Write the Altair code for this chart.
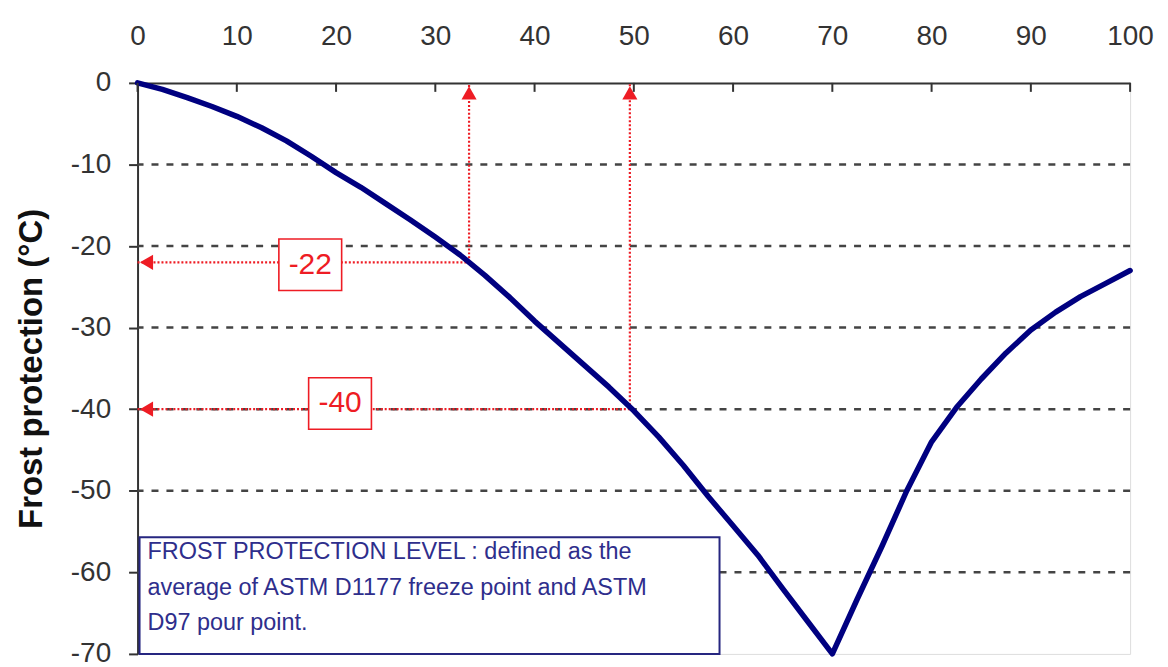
import altair as alt
import pandas as pd

# ---- data ----
conc = [0, 2.5, 5, 7.5, 10, 12.5, 15, 17.5, 20, 22.5, 25, 27.5, 30, 32.5, 35, 37.5,
        40, 42.5, 45, 47.5, 50, 52.5, 55, 57.5, 60, 62.5, 65, 67.5, 70, 72.5, 75,
        77.5, 80, 82.5, 85, 87.5, 90, 92.5, 95, 97.5, 100]
frost = [0, -0.8, -1.8, -2.9, -4.1, -5.5, -7.1, -9.0, -11.0, -12.8, -14.8, -16.8,
         -18.9, -21.1, -23.6, -26.3, -29.2, -31.9, -34.6, -37.3, -40.2, -43.4, -46.9,
         -50.7, -54.3, -57.9, -62.0, -66.0, -70.0, -63.3, -56.8, -50.0, -44.0, -39.8,
         -36.3, -33.1, -30.3, -28.1, -26.2, -24.6, -23.0]

x_ticks = [0, 10, 20, 30, 40, 50, 60, 70, 80, 90, 100]
y_ticks = [-70, -60, -50, -40, -30, -20, -10, 0]
grid_levels = [-10, -20, -30, -40, -50, -60]

ann_conc = [33.4, 49.6]
ann_temp = [-22, -40]
ann_text = ["-22", "-40"]
ann_label_x = [17.4, 20.4]
ann_label_y = [-22.3, -39.3]

note_lines = [
    "FROST PROTECTION LEVEL : defined as the",
    "average of ASTM D1177 freeze point and ASTM",
    "D97 pour point.",
]

FONT = "Liberation Sans"
RED = "#ee1c24"
NAVY = "#000080"

curve_df = pd.DataFrame({"conc": conc, "frost": frost})
grid_df = pd.DataFrame({"level": grid_levels})
tick_df = pd.DataFrame({"conc": x_ticks})
ann_df = pd.DataFrame({
    "conc": ann_conc, "frost": ann_temp, "start": [0] * len(ann_conc),
    "top": [0] * len(ann_conc), "lx": ann_label_x, "ly": ann_label_y,
    "label": ann_text,
})

xs = alt.Scale(domain=[0, 100], nice=False, zero=False)
ys = alt.Scale(domain=[-70, 0], nice=False, zero=False)

x_axis = alt.Axis(orient="top", values=x_ticks, labelFontSize=28, labelColor="#333333",
                  ticks=False, tickSize=0, labelPadding=33, domainColor="#333333",
                  domainWidth=2, grid=False, title=None, labelFlush=False,
                  labelOverlap=False, labelFont=FONT)
y_axis = alt.Axis(orient="left", values=y_ticks, labelFontSize=28, labelColor="#333333",
                  labelExpr="'' + datum.value",
                  tickSize=9, tickWidth=2, tickColor="#333333", labelPadding=18,
                  domainColor="#333333", domainWidth=2, grid=False,
                  title="Frost protection (°C)", titleFontSize=33, titleFontWeight="bold",
                  titleColor="#111111", titlePadding=22, labelFont=FONT, titleFont=FONT,
                  labelOverlap=False)


def X(f):
    return alt.X(f, type="quantitative", scale=xs, axis=x_axis)


def Y(f):
    return alt.Y(f, type="quantitative", scale=ys, axis=y_axis)


grid = alt.Chart(grid_df).mark_rule(color="#444444", strokeWidth=2.5, strokeDash=[7, 8]).encode(
    y=Y("level")
)

note_box = alt.Chart(alt.Data(values=[{}])).mark_rect(
    fill="white", stroke="#262680", strokeWidth=2
).encode(x=alt.value(2), x2=alt.value(584), y=alt.value(456), y2=alt.value(573))

note_text = alt.Chart(alt.Data(values=[{}])).mark_text(
    align="left", baseline="middle", fontSize=23.5, lineHeight=35.5, color="#2e2e8c", font=FONT
).encode(x=alt.value(10), y=alt.value(471), text=alt.value(note_lines))

h_lines = alt.Chart(ann_df).mark_rule(color=RED, strokeWidth=2.2, strokeDash=[2, 2]).encode(
    x=X("start"), x2="conc", y=Y("frost")
)
v_lines = alt.Chart(ann_df).mark_rule(color=RED, strokeWidth=2.2, strokeDash=[2, 2]).encode(
    x=X("conc"), y=Y("frost"), y2="top"
)

line = alt.Chart(curve_df).mark_line(color=NAVY, strokeWidth=5.5, strokeJoin="round",
                                     strokeCap="round").encode(x=X("conc"), y=Y("frost"))

left_arrows = alt.Chart(ann_df).mark_point(shape="triangle-left", filled=True, color=RED,
                                           size=230, opacity=1, xOffset=9).encode(
    x=X("start"), y=Y("frost")
)
up_arrows = alt.Chart(ann_df).mark_point(shape="triangle-up", filled=True, color=RED,
                                         size=230, opacity=1, yOffset=10).encode(
    x=X("conc"), y=Y("top")
)

label_boxes = alt.Chart(ann_df).mark_point(
    shape="M-1,-0.82L1,-0.82L1,0.82L-1,0.82Z", size=3969, filled=True, fill="white",
    stroke=RED, strokeWidth=1.6, opacity=1
).encode(x=X("lx"), y=Y("ly"))

label_text = alt.Chart(ann_df).mark_text(fontSize=30, color=RED, font=FONT,
                                         baseline="middle", align="center").encode(
    x=X("lx"), y=Y("ly"), text="label"
)

x_tick_marks = alt.Chart(tick_df).mark_tick(orient="vertical", size=9, thickness=2,
                                            color="#333333", opacity=1).encode(
    x=X("conc"), y=alt.value(4.5)
)

chart = alt.layer(
    grid, note_box, h_lines, v_lines, line, left_arrows, up_arrows,
    label_boxes, label_text, x_tick_marks, note_text
).properties(
    width=996, height=573,
    autosize=alt.AutoSizeParams(type="none"),
    padding={"left": 130, "top": 74, "right": 30, "bottom": 12},
).configure_view(stroke="#a0a0a0", strokeWidth=2).configure(font=FONT)

chart.save("out.html", embed_options={"renderer": "svg", "actions": False})
